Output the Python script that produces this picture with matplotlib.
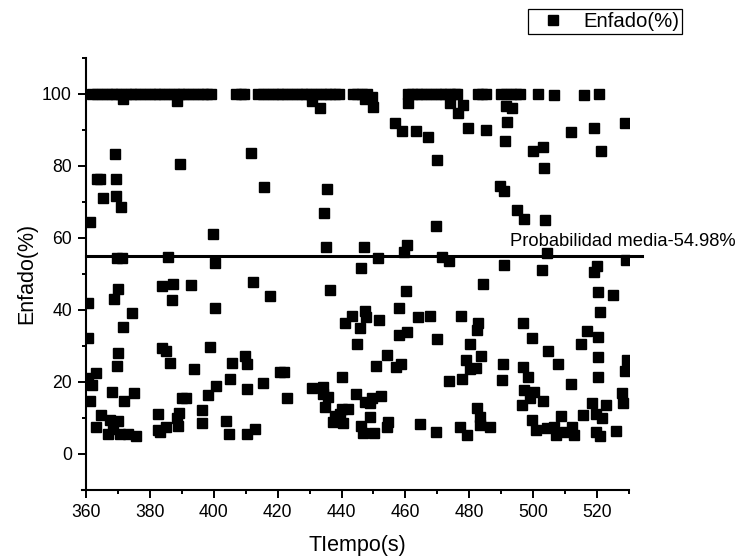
#!/usr/bin/env python3

import matplotlib
matplotlib.use("Agg")
import matplotlib.pyplot as plt
from matplotlib.lines import Line2D
from matplotlib.ticker import MultipleLocator

plt.rcParams["font.family"] = ["Liberation Sans", "DejaVu Sans"]

# Samples sitting on the 100 % plateau ...
tiempo_plateau = [
    362.0, 363.5, 365.0, 366.5, 368.0, 369.5, 371.0, 372.5, 374.0, 375.5,
    377.0, 378.5, 380.0, 381.5, 383.0, 384.5, 386.0, 387.5, 389.0, 390.5,
    392.0, 393.5, 395.0, 396.5, 398.0, 399.0,
    407.0, 408.5, 409.5,
    414.0, 415.5, 417.0, 418.5, 420.0, 421.5, 423.0, 424.5, 426.0, 427.5,
    429.0, 430.5, 432.0, 433.5, 435.0, 436.5, 438.0, 439.2,
    443.5, 445.0, 446.5, 448.0,
    460.7, 462.0, 463.5, 465.0, 466.5, 468.0, 469.5, 471.0, 472.5, 474.0,
    475.5, 476.2,
    482.7, 484.0, 485.1,
    490.0, 491.5, 493.0, 494.5, 496.0,
    501.4, 506.6, 516.0, 520.6,
]
enfado_plateau = [
    100, 100, 100, 100, 100, 100, 100, 100, 100, 100,
    100, 100, 100, 100, 100, 100, 100, 100, 100, 100,
    100, 100, 100, 100, 100, 100,
    100, 100, 100,
    100, 100, 100, 100, 100, 100, 100, 100, 100, 100,
    100, 100, 100, 100, 100, 100, 100, 100,
    100, 100, 100, 100,
    100, 100, 100, 100, 100, 100, 100, 100, 100, 100,
    100, 100,
    100, 100, 100,
    100, 100, 100, 100, 100,
    100, 99.6, 99.6, 100,
]

# Remaining samples, 360-425 s ...
tiempo_a = [
    371.7, 388.4, 369.1, 389.4, 411.7, 363.3, 364.3, 369.3, 415.8, 365.2,
    369.3, 371.0, 361.3, 399.9, 369.6, 371.4, 385.8, 400.4, 369.9, 383.7,
    387.1, 392.8, 412.4, 417.6, 368.8, 386.8, 360.7, 400.4, 374.5, 371.7,
    360.7, 383.9, 385.2, 398.8, 370.1, 369.6, 386.3, 393.9, 405.6, 409.8,
    410.3, 420.6, 421.9, 363.1, 360.7, 362.0, 405.1, 415.5, 400.7, 410.5,
    368.0, 375.0, 390.2, 391.4, 398.1, 422.8, 361.3, 372.0, 364.7, 382.4,
    396.4, 389.1, 388.4, 363.0, 367.5, 369.9, 368.5, 367.0, 370.6, 373.2,
    375.8, 382.6, 383.2, 385.2, 388.7, 396.2, 403.8, 404.9, 410.3, 412.9,
]
enfado_a = [
    98.5, 98.0, 83.2, 80.4, 83.6, 76.3, 76.3, 76.3, 74.2, 71.0,
    71.7, 68.4, 64.4, 60.9, 54.4, 54.3, 54.7, 53.1, 45.8, 46.7,
    47.1, 47.0, 47.8, 43.9, 43.0, 42.7, 41.8, 40.6, 39.2, 35.3,
    32.2, 29.3, 28.6, 29.6, 27.9, 24.5, 25.1, 23.5, 25.1, 27.2,
    24.9, 22.8, 22.8, 22.3, 21.1, 19.1, 20.7, 19.7, 18.8, 18.0,
    17.2, 16.9, 15.4, 15.4, 16.3, 15.4, 14.7, 14.6, 10.7, 11.0,
    12.1, 11.4, 9.8, 7.5, 9.4, 9.1, 6.9, 5.4, 5.4, 5.4,
    4.9, 6.6, 5.9, 7.5, 7.7, 8.4, 9.1, 5.4, 5.4, 7.0,
]

# Remaining samples, 425-490 s ...
tiempo_b = [
    430.7, 433.3, 447.3, 449.4, 449.9, 460.9, 474.0, 478.1, 476.6, 456.7,
    458.8, 463.2, 467.0, 479.7, 485.2, 469.9, 435.6, 489.5, 434.5, 469.6,
    435.0, 447.0, 460.5, 459.6, 451.5, 471.3, 473.6, 446.0, 436.4, 460.1,
    484.4, 458.0, 447.3, 443.4, 447.7, 441.1, 451.8, 463.8, 467.7, 477.3,
    482.6, 482.3, 445.8, 458.0, 460.6, 469.8, 444.7, 454.1, 450.7, 457.2,
    458.5, 440.0, 430.7, 434.3, 434.3, 435.9, 434.8, 444.5, 447.3, 449.4,
    452.5, 448.9, 440.0, 442.1, 438.0, 439.5, 437.4, 440.5, 448.9, 446.1,
    446.8, 450.2, 454.4, 454.1, 464.5, 469.6, 473.6, 477.8, 480.2, 482.1,
    479.1, 483.8, 480.2, 482.3, 483.4, 483.4, 486.5, 477.1, 479.2,
]
enfado_b = [
    97.9, 95.9, 98.5, 99.2, 96.4, 97.3, 97.3, 97.0, 94.7, 91.8,
    89.7, 89.7, 87.9, 90.4, 89.9, 81.6, 73.4, 74.4, 66.8, 63.3,
    57.3, 57.3, 58.0, 56.1, 54.4, 54.7, 53.6, 51.5, 45.5, 45.2,
    47.1, 40.4, 39.7, 38.3, 38.1, 36.4, 37.1, 38.1, 38.3, 38.3,
    36.4, 34.4, 35.0, 33.0, 33.7, 32.0, 30.4, 27.4, 24.4, 24.0,
    24.9, 21.4, 18.2, 18.6, 16.5, 15.8, 13.1, 16.5, 14.4, 15.4,
    16.0, 14.0, 12.4, 12.4, 10.6, 10.9, 8.7, 8.4, 10.3, 7.8,
    5.7, 5.8, 8.7, 7.3, 8.2, 5.9, 20.2, 20.7, 23.4, 23.7,
    26.0, 27.1, 30.5, 12.8, 10.3, 8.0, 7.3, 7.3, 5.2,
]

# Remaining samples, 490-530 s ...
tiempo_c = [
    491.6, 493.3, 491.7, 511.8, 519.1, 528.9, 491.2, 503.0, 500.0, 521.1,
    503.4, 491.0, 494.8, 497.2, 503.7, 504.4, 491.0, 502.7, 519.9, 519.1,
    529.1, 520.4, 525.1, 521.0, 496.9, 499.5, 516.7, 520.4, 515.0, 504.7,
    520.2, 529.3, 528.7, 490.6, 496.7, 507.7, 498.3, 490.3, 520.4, 511.8,
    497.2, 500.3, 499.0, 503.2, 496.4, 527.8, 528.2, 518.5, 522.8, 508.6,
    515.5, 519.6, 521.4, 499.7, 500.9, 504.2, 506.6, 507.3, 509.9, 512.3,
    512.8, 519.6, 520.9, 525.8,
]
enfado_c = [
    96.6, 95.9, 92.2, 89.5, 90.4, 91.8, 86.9, 85.3, 84.1, 84.2,
    79.3, 73.0, 67.7, 65.2, 64.9, 55.7, 52.4, 51.0, 52.1, 50.4,
    53.8, 44.8, 44.1, 39.4, 36.2, 32.2, 34.1, 32.5, 30.4, 28.5,
    26.8, 26.0, 23.0, 24.8, 24.2, 24.8, 21.4, 20.5, 21.4, 19.3,
    17.7, 17.2, 15.4, 14.6, 13.5, 17.0, 14.2, 14.2, 13.5, 10.6,
    10.7, 11.0, 9.8, 9.4, 6.6, 7.2, 7.5, 5.2, 6.1, 7.3,
    5.2, 5.9, 5.0, 6.4,
]

media = 54.98

# Create figure ...
fg = plt.figure(figsize = (7.40, 5.56), dpi = 100)
ax = fg.add_axes([0.1162, 0.1192, 0.7338, 0.7770])

# Plot data ...
tiempo = tiempo_plateau + tiempo_a + tiempo_b + tiempo_c
enfado = enfado_plateau + enfado_a + enfado_b + enfado_c
ax.plot(
    tiempo,
    enfado,
    linestyle = "none",
       marker = "s",
           ms = 6.8,
        color = "black",
       zorder = 3,
)

# Plot mean line ...
ax.plot(
    [360.0, 534.0],
    [media, media],
      color = "black",
  linewidth = 2.2,
    clip_on = False,
     zorder = 2,
)
ax.text(
    492.6,
    57.6,
    f"Probabilidad media-{media:.2f}%",
    fontsize = 13.2,
          ha = "left",
          va = "baseline",
)

# Configure axis ...
ax.set_xlim(360, 530)
ax.set_ylim(-10, 110)
ax.xaxis.set_major_locator(MultipleLocator(20))
ax.xaxis.set_minor_locator(MultipleLocator(10))
ax.set_yticks([0, 20, 40, 60, 80, 100])
ax.yaxis.set_minor_locator(MultipleLocator(10))
for side in ["top", "right"]:
    ax.spines[side].set_visible(False)
for side in ["left", "bottom"]:
    ax.spines[side].set_linewidth(1.5)
ax.spines["bottom"].set_bounds(358.6, 530)
ax.tick_params(which = "major", direction = "out", length = 5.5, width = 1.4, labelsize = 12.7)
ax.tick_params(which = "minor", direction = "out", length = 2.6, width = 1.4)
ax.tick_params(axis = "x", which = "major", pad = 5.0)
ax.tick_params(axis = "y", which = "major", pad = 4.6)

ax.set_xlabel("TIempo(s)", fontsize = 15.5)
ax.set_ylabel("Enfado(%)", fontsize = 15.5)
ax.xaxis.set_label_coords(0.5, -0.104)
ax.yaxis.set_label_coords(-0.090, 0.5)

# Legend ...
handle = Line2D([], [], linestyle = "none", marker = "s", ms = 6.8, color = "black")
leg = fg.legend(
    [handle],
    ["Enfado(%)"],
                loc = "upper left",
     bbox_to_anchor = (528 / 740, 1 - 9.3 / 556),
      borderaxespad = 0.0,
           fontsize = 14.6,
          borderpad = 0.15,
       handlelength = 2.2,
      handletextpad = 0.36,
           fancybox = False,
         framealpha = 1.0,
          edgecolor = "black",
)
leg.get_frame().set_linewidth(0.9)

# Save figure ...
fg.savefig("out.png", dpi = 100)
plt.close(fg)
